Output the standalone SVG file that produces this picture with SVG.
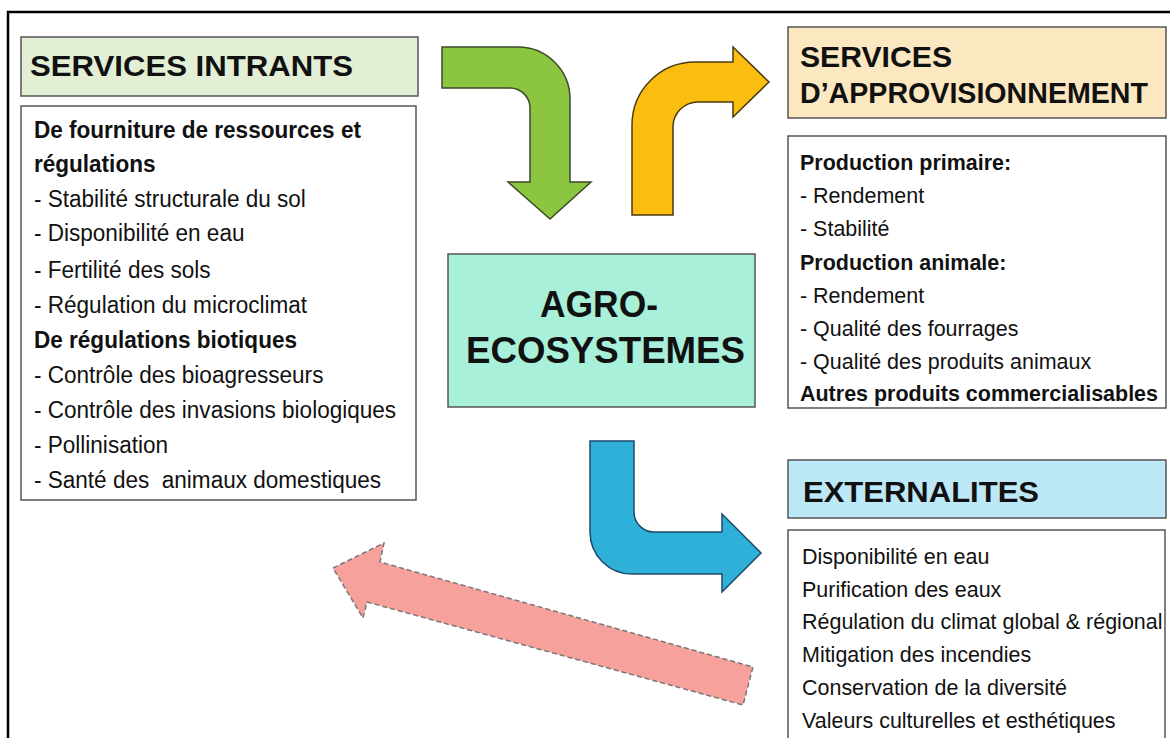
<svg xmlns="http://www.w3.org/2000/svg" width="1170" height="738" viewBox="0 0 1170 738">
<style>
  text { font-family: "Liberation Sans", Arial, sans-serif; fill: #111; }
  .hd { font-weight: bold; font-size: 30px; }
  .b { font-weight: bold; }
  .lt { font-size: 23.5px; }
  .rt { font-size: 22.5px; }
  .box { fill: #ffffff; stroke: #555; stroke-width: 1.5; }
  .arr { stroke-width: 1.5; stroke-linejoin: miter; }
</style>
<rect width="1170" height="738" fill="#ffffff"/>
<path d="M8,738 V12 H1170" fill="none" stroke="#000" stroke-width="2.5"/>

<g id="services-intrants">
  <rect x="21" y="37" width="397" height="59" fill="#e2efd5" stroke="#555" stroke-width="1.5"/>
  <text x="30" y="76" class="hd" textLength="323" lengthAdjust="spacingAndGlyphs">SERVICES INTRANTS</text>
</g>
<g id="intrants-list">
  <rect x="21" y="106" width="395" height="394" class="box"/>
  <g transform="scale(0.96,1)">
    <text class="lt">
      <tspan x="35.4" y="138" class="b">De fourniture de ressources et</tspan>
      <tspan x="35.4" y="172" class="b">régulations</tspan>
      <tspan x="35.4" y="207">- Stabilité structurale du sol</tspan>
      <tspan x="35.4" y="241">- Disponibilité en eau</tspan>
      <tspan x="35.4" y="278">- Fertilité des sols</tspan>
      <tspan x="35.4" y="313">- Régulation du microclimat</tspan>
      <tspan x="35.4" y="348" class="b">De régulations biotiques</tspan>
      <tspan x="35.4" y="383">- Contrôle des bioagresseurs</tspan>
      <tspan x="35.4" y="418">- Contrôle des invasions biologiques</tspan>
      <tspan x="35.4" y="453">- Pollinisation</tspan>
    </text>
    <text x="35.4" y="488" class="lt" xml:space="preserve">- Santé des  animaux domestiques</text>
  </g>
</g>

<g id="agro-ecosystemes">
  <rect x="448" y="254" width="307" height="153" fill="#a8f0da" stroke="#555" stroke-width="1.5"/>
  <text x="540" y="317" class="b" font-size="36" textLength="118" lengthAdjust="spacingAndGlyphs">AGRO-</text>
  <text x="466" y="363" class="b" font-size="36" textLength="279" lengthAdjust="spacingAndGlyphs">ECOSYSTEMES</text>
</g>

<g id="services-approvisionnement">
  <rect x="788" y="27" width="378" height="91" fill="#fce8c0" stroke="#555" stroke-width="1.5"/>
  <text x="800" y="67" class="hd" textLength="152" lengthAdjust="spacingAndGlyphs">SERVICES</text>
  <text x="800" y="103" class="hd" textLength="348" lengthAdjust="spacingAndGlyphs">D’APPROVISIONNEMENT</text>
</g>
<g id="approvisionnement-list">
  <rect x="788" y="136" width="378" height="272" class="box"/>
  <g transform="scale(0.955,1)">
    <text class="rt">
      <tspan x="837.7" y="170" class="b">Production primaire:</tspan>
      <tspan x="837.7" y="203">- Rendement</tspan>
      <tspan x="837.7" y="236">- Stabilité</tspan>
      <tspan x="837.7" y="270" class="b">Production animale:</tspan>
      <tspan x="837.7" y="303">- Rendement</tspan>
      <tspan x="837.7" y="336">- Qualité des fourrages</tspan>
      <tspan x="837.7" y="369">- Qualité des produits animaux</tspan>
      <tspan x="837.7" y="401" class="b">Autres produits commercialisables</tspan>
    </text>
  </g>
</g>

<g id="externalites">
  <rect x="788" y="460" width="378" height="58" fill="#bde8f7" stroke="#555" stroke-width="1.5"/>
  <text x="803" y="502" class="hd" textLength="236" lengthAdjust="spacingAndGlyphs">EXTERNALITES</text>
</g>
<g id="externalites-list">
  <rect x="788" y="530" width="377" height="220" class="box"/>
  <g transform="scale(0.955,1)">
    <text class="rt">
      <tspan x="839.8" y="564">Disponibilité en eau</tspan>
      <tspan x="839.8" y="597">Purification des eaux</tspan>
      <tspan x="839.8" y="629">Régulation du climat global &amp; régional</tspan>
      <tspan x="839.8" y="662">Mitigation des incendies</tspan>
      <tspan x="839.8" y="695">Conservation de la diversité</tspan>
      <tspan x="839.8" y="728">Valeurs culturelles et esthétiques</tspan>
    </text>
  </g>
</g>

<g id="connectors">
  <path class="arr" fill="#8cc53f" stroke="#3d4a2a" d="M442,47 L518,47 A52,52 0 0 1 570,99 L570,182 L591,182 L550,219 L508,182 L530,182 L530,108 A20,20 0 0 0 510,88 L442,88 Z"/>
  <path class="arr" fill="#fbbd10" stroke="#4a3b10" d="M632,215 L632,125 A63,63 0 0 1 695,62 L733,62 L733,47 L769,82 L733,117 L733,102 L698,102 A25,25 0 0 0 673,127 L673,215 Z"/>
  <path class="arr" fill="#2fb0d8" stroke="#1e4a6a" d="M590,441 L634,441 L634,512 A20,20 0 0 0 654,532 L722,532 L722,514 L761,553 L722,592 L722,574 L632,574 A42,42 0 0 1 590,532 Z"/>
  <path fill="#f7a19c" stroke="#777" stroke-width="1.5" stroke-dasharray="5,3" d="M333,568 L384,543 L380,562 L753,667 L743,705 L367,602 L363,618 Z"/>
</g>
</svg>
